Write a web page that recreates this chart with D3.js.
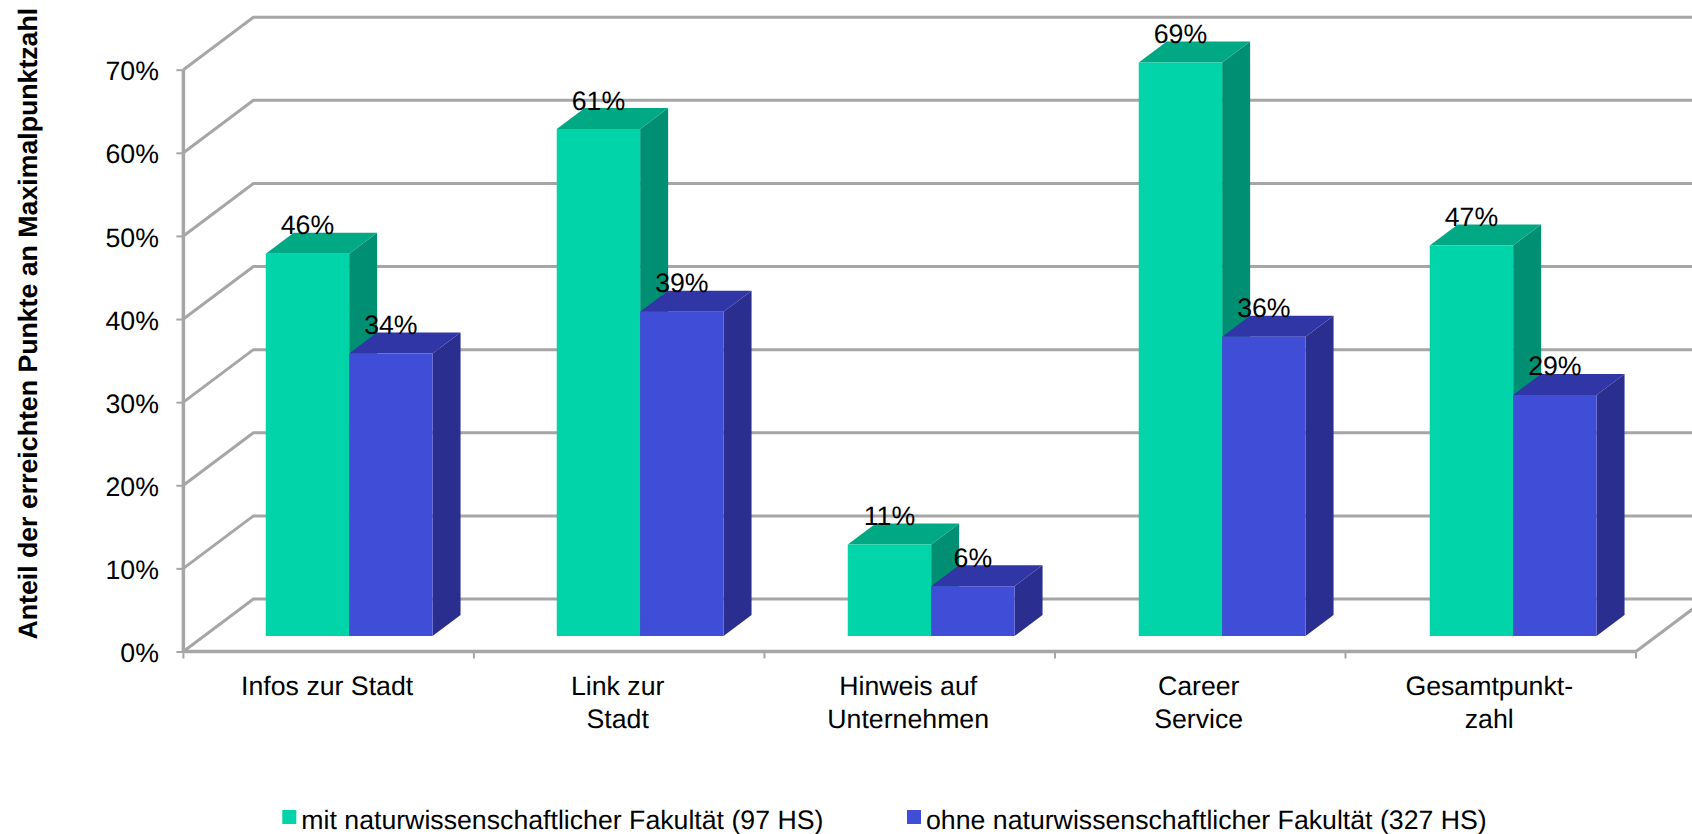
<!DOCTYPE html>
<html lang="de">
<head>
<meta charset="utf-8">
<script src="https://cdn.jsdelivr.net/npm/d3@7"></script>
<style>
  html, body { margin: 0; padding: 0; background: #fff; }
  svg { display: block; }
  text { font-family: "Liberation Sans", Arial, sans-serif; fill: #000; text-rendering: geometricPrecision; }
</style>
</head>
<body>
<div id="chart"></div>
<script>
const categories = ["Infos zur Stadt", "Link zur\nStadt", "Hinweis auf\nUnternehmen", "Career\nService", "Gesamtpunkt-\nzahl"];
const seriesNames = ["mit naturwissenschaftlicher Fakultät (97 HS)", "ohne naturwissenschaftlicher Fakultät (327 HS)"];
const withFaculty = [46, 61, 11, 69, 47];
const withoutFaculty = [34, 39, 6, 36, 29];
const yTicks = [0, 10, 20, 30, 40, 50, 60, 70];
const yTitle = "Anteil der erreichten Punkte an Maximalpunktzahl";

const faces = [
  { front: "#00d4a8", top: "#00a883", side: "#008f72" },
  { front: "#404dd6", top: "#3036a5", side: "#2a2f8f" }
];

const W = 1692, H = 834;
const gridColor = "#a6a6a6";
const fontSize = 26.7;

// Oblique projection: depth 0 is the front edge of the floor, depth 1 the back wall.
const depthX = 70, depthY = 52.5;
const project = (x, y, depth) => [x + depth * depthX, y - depth * depthY];

const xOuter = d3.scaleBand().domain(categories).range([183.4, 1636]);
const xColumns = d3.scaleBand().domain(categories).range([183.4, 183.4 + 5 * 291]);
const xInner = d3.scaleBand().domain([0, 1]).range([61.7, 228.5]);
const y = d3.scaleLinear().domain([0, 70]).range([651.5, 69.7]);

const barDepthStart = 0.295, barDepthEnd = 0.695;

const svg = d3.select("#chart").append("svg").attr("width", W).attr("height", H);
const line = d3.line();

// Wall: a diagonal on the side wall plus a horizontal on the back wall for each tick.
const wall = svg.append("g").attr("fill", "none").attr("stroke", gridColor).attr("stroke-width", 3);
yTicks.forEach(t => {
  const front = [xOuter.range()[0], y(t)];
  const back = project(front[0], front[1], 1);
  wall.append("path").attr("d", line([front, back, [W + 10, back[1]]]));
});

// Right edge of the floor.
wall.append("path").attr("d", line([
  [xOuter.range()[1], y(0)],
  project(xOuter.range()[1], y(0), 1)
]));

// Value axis
const yAxis = d3.axisLeft(y).tickValues(yTicks).tickSize(7).tickPadding(17.5).tickFormat(d => d + "%");
const yG = svg.append("g").attr("transform", `translate(${xOuter.range()[0]},0)`).call(yAxis);
yG.select(".domain").attr("stroke", gridColor).attr("stroke-width", 3.5).attr("d", line([[0, y(70)], [0, y(0)]]));
yG.selectAll(".tick line").attr("stroke", gridColor).attr("stroke-width", 2);
yG.selectAll("text").attr("font-size", fontSize).attr("font-family", "Liberation Sans").attr("fill", "#000").attr("dy", "0.38em");

// Category axis with boundary ticks
const boundaries = categories.map(c => xOuter(c)).concat(xOuter.range()[1]);
const xG = svg.append("g");
xG.append("path").attr("d", line([[xOuter.range()[0], y(0)], [xOuter.range()[1], y(0)]]))
  .attr("stroke", gridColor).attr("stroke-width", 3.5).attr("fill", "none");
xG.selectAll("line.tick").data(boundaries).join("line").attr("class", "tick")
  .attr("x1", d => d).attr("x2", d => d).attr("y1", y(0)).attr("y2", y(0) + 7)
  .attr("stroke", gridColor).attr("stroke-width", 2);

categories.forEach(c => {
  const t = xG.append("text").attr("text-anchor", "middle").attr("font-size", fontSize);
  c.split("\n").forEach((part, i) => {
    t.append("tspan").attr("x", xOuter(c) + xOuter.bandwidth() / 2 - 1.5).attr("y", 695 + i * 33).text(part);
  });
});

// Bars: each one is a front, top and side face drawn from its value.
const rows = [withFaculty, withoutFaculty];
const bars = svg.append("g");
const labelData = [];
categories.forEach((c, ci) => {
  rows.forEach((row, si) => {
    const v = row[ci];
    const x0 = xColumns(c) + xInner(si);
    const x1 = x0 + xInner.bandwidth();
    const poly = pts => pts.map(p => p.join(",")).join(" ");
    const p = (x, val, d) => project(x, y(val), d);
    const f = faces[si];
    const g = bars.append("g");
    g.append("polygon").attr("fill", f.side).attr("points", poly([
      p(x1, 0, barDepthStart), p(x1, v, barDepthStart), p(x1, v, barDepthEnd), p(x1, 0, barDepthEnd)
    ]));
    g.append("polygon").attr("fill", f.top).attr("points", poly([
      p(x0, v, barDepthStart), p(x1, v, barDepthStart), p(x1, v, barDepthEnd), p(x0, v, barDepthEnd)
    ]));
    g.append("polygon").attr("fill", f.front).attr("points", poly([
      p(x0, 0, barDepthStart), p(x1, 0, barDepthStart), p(x1, v, barDepthStart), p(x0, v, barDepthStart)
    ]));
    const front = p((x0 + x1) / 2, v, barDepthStart);
    labelData.push({ x: front[0], y: front[1], v });
  });
});

// Value labels sit on top of the columns.
svg.append("g").selectAll("text").data(labelData).join("text")
  .attr("text-anchor", "middle").attr("font-size", fontSize)
  .attr("x", d => d.x).attr("y", d => d.y - 19.5)
  .text(d => d.v + "%");

// Axis title
svg.append("text")
  .attr("transform", "translate(37.3,323.7) rotate(-90)")
  .attr("text-anchor", "middle").attr("font-size", fontSize).attr("font-weight", "bold")
  .text(yTitle);

// Legend
const legendX = [282.3, 907];
const legend = svg.append("g").selectAll("g").data(seriesNames).join("g")
  .attr("transform", (d, i) => `translate(${legendX[i]},810)`);
legend.append("rect").attr("width", 14).attr("height", 14).attr("fill", (d, i) => faces[i].front);
legend.append("text").attr("x", 19).attr("y", 18.5).attr("font-size", fontSize).text(d => d);
</script>
</body>
</html>
